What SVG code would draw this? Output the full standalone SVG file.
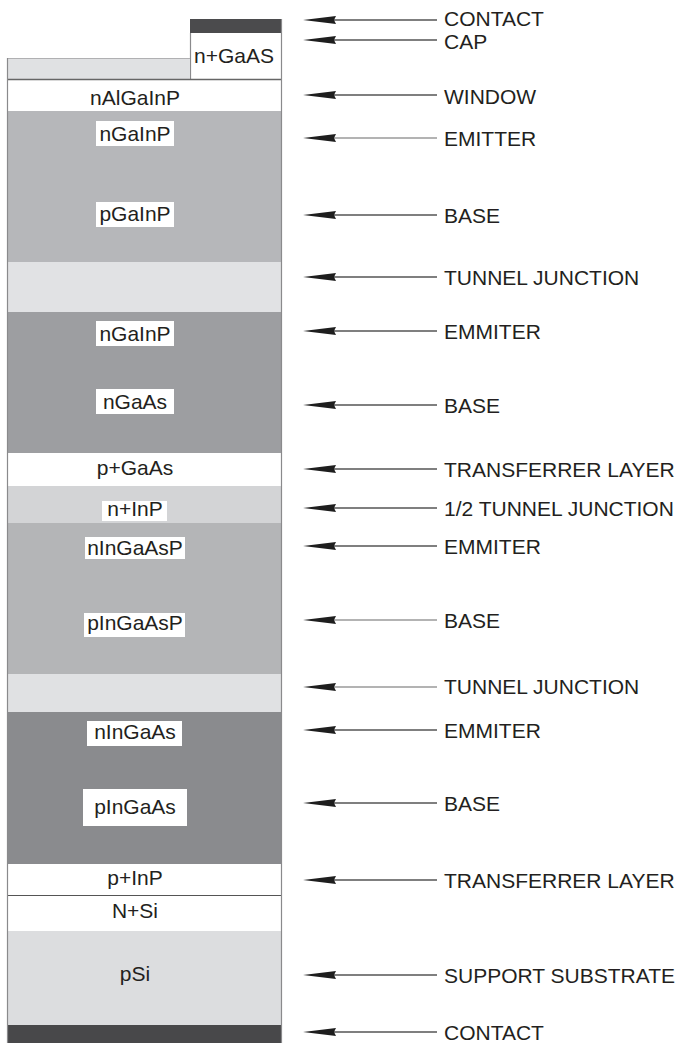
<svg xmlns="http://www.w3.org/2000/svg" width="680" height="1044" viewBox="0 0 680 1044">
<style>
.lbl{font-family:"Liberation Sans",Arial,sans-serif;font-size:21px;fill:#231f20;text-anchor:middle}
.rl{font-family:"Liberation Sans",Arial,sans-serif;font-size:21px;fill:#231f20}
.box{fill:#ffffff}
.sep{stroke:#8a8a8c;stroke-width:1.2}
.ln{stroke:#555;stroke-width:1.6}
.lnl{stroke:#9a9a9a;stroke-width:1.6}
</style>
<defs>
<path id="ah" d="M303,0 L336,-4 L334,0 L336,4 Z" fill="#1e1e1e"/>
</defs>
<rect width="680" height="1044" fill="#ffffff"/>
<g id="stack">
<g id="contact-top"><rect x="190" y="19" width="92" height="14" fill="#4b4b4d"/></g>
<g id="cap"><rect x="190" y="33" width="92" height="46" fill="#ffffff"/><line x1="190.5" y1="33" x2="190.5" y2="79" class="sep"/><text class="lbl" x="234" y="63">n+GaAS</text></g>
<g id="strip"><rect x="7" y="58" width="183" height="21" fill="#e0e1e3"/><line x1="7" y1="58.5" x2="190" y2="58.5" stroke="#b0b0b2" stroke-width="1"/></g>
<g id="window"><rect x="7" y="79" width="275" height="32" fill="#ffffff"/><line x1="7" y1="79.5" x2="282" y2="79.5" stroke="#666" stroke-width="1.4"/><text class="lbl" x="135" y="105">nAlGaInP</text></g>
<g id="gainp"><rect x="7" y="111" width="275" height="151" fill="#b6b7ba"/>
<rect class="box" x="96" y="121" width="78" height="25"/><text class="lbl" x="135" y="141">nGaInP</text>
<rect class="box" x="96" y="202" width="78" height="25"/><text class="lbl" x="135" y="221">pGaInP</text></g>
<g id="tj1"><rect x="7" y="262" width="275" height="50" fill="#e1e2e4"/></g>
<g id="gaas"><rect x="7" y="312" width="275" height="141" fill="#9d9ea1"/>
<rect class="box" x="96" y="321" width="78" height="25"/><text class="lbl" x="135" y="341">nGaInP</text>
<rect class="box" x="96" y="389" width="78" height="25"/><text class="lbl" x="135" y="409">nGaAs</text></g>
<g id="pgaas"><rect x="7" y="453" width="275" height="33" fill="#ffffff"/><text class="lbl" x="135" y="475">p+GaAs</text></g>
<g id="ninp"><rect x="7" y="486" width="275" height="37" fill="#d3d4d6"/>
<rect class="box" x="102" y="501" width="65" height="20"/><text class="lbl" x="135" y="516">n+InP</text></g>
<g id="ingaasp"><rect x="7" y="523" width="275" height="151" fill="#b4b5b7"/>
<rect class="box" x="85" y="537" width="100" height="22"/><text class="lbl" x="135" y="555">nInGaAsP</text>
<rect class="box" x="84" y="613" width="101" height="24"/><text class="lbl" x="135" y="630">pInGaAsP</text></g>
<g id="tj2"><rect x="7" y="674" width="275" height="38" fill="#e0e1e3"/></g>
<g id="ingaas"><rect x="7" y="712" width="275" height="152" fill="#8a8b8e"/>
<rect class="box" x="87" y="721" width="95" height="25"/><text class="lbl" x="135" y="739">nInGaAs</text>
<rect class="box" x="83" y="789" width="104" height="37"/><text class="lbl" x="135" y="814">pInGaAs</text></g>
<g id="pinp"><rect x="7" y="864" width="275" height="31" fill="#ffffff"/><text class="lbl" x="135" y="885">p+InP</text></g>
<g id="nsi"><rect x="7" y="895" width="275" height="36" fill="#ffffff"/><line x1="7" y1="895.5" x2="282" y2="895.5" stroke="#555" stroke-width="1.2"/><text class="lbl" x="135" y="918">N+Si</text></g>
<g id="psi"><rect x="7" y="931" width="275" height="94" fill="#dcdddf"/><text class="lbl" x="135" y="981">pSi</text></g>
<g id="contact-bottom"><rect x="7" y="1025" width="275" height="18" fill="#48484a"/></g>
<line x1="7.5" y1="58" x2="7.5" y2="1043" class="sep"/>
<line x1="281.5" y1="19" x2="281.5" y2="1043" class="sep"/>
</g>
<g id="connectors">
<line class="ln" x1="330" y1="20" x2="437" y2="20"/><use href="#ah" y="20"/>
<line class="ln" x1="330" y1="40" x2="437" y2="40"/><use href="#ah" y="40"/>
<line class="ln" x1="330" y1="95" x2="437" y2="95"/><use href="#ah" y="95"/>
<line class="lnl" x1="330" y1="138" x2="437" y2="138"/><use href="#ah" y="138"/>
<line class="ln" x1="330" y1="215" x2="437" y2="215"/><use href="#ah" y="215"/>
<line class="ln" x1="330" y1="277" x2="437" y2="277"/><use href="#ah" y="277"/>
<line class="ln" x1="330" y1="331" x2="437" y2="331"/><use href="#ah" y="331"/>
<line class="ln" x1="330" y1="405" x2="437" y2="405"/><use href="#ah" y="405"/>
<line class="ln" x1="330" y1="469" x2="437" y2="469"/><use href="#ah" y="469"/>
<line class="ln" x1="330" y1="508" x2="437" y2="508"/><use href="#ah" y="508"/>
<line class="ln" x1="330" y1="546" x2="437" y2="546"/><use href="#ah" y="546"/>
<line class="lnl" x1="330" y1="620" x2="437" y2="620"/><use href="#ah" y="620"/>
<line class="lnl" x1="330" y1="687" x2="437" y2="687"/><use href="#ah" y="687"/>
<line class="ln" x1="330" y1="730" x2="437" y2="730"/><use href="#ah" y="730"/>
<line class="ln" x1="330" y1="803" x2="437" y2="803"/><use href="#ah" y="803"/>
<line class="ln" x1="330" y1="880" x2="437" y2="880"/><use href="#ah" y="880"/>
<line class="ln" x1="330" y1="975" x2="437" y2="975"/><use href="#ah" y="975"/>
<line class="ln" x1="330" y1="1032" x2="437" y2="1032"/><use href="#ah" y="1032"/>
</g>
<g id="labels">
<text class="rl" x="444" y="26">CONTACT</text>
<text class="rl" x="444" y="49">CAP</text>
<text class="rl" x="444" y="104">WINDOW</text>
<text class="rl" x="444" y="146">EMITTER</text>
<text class="rl" x="444" y="223">BASE</text>
<text class="rl" x="444" y="285">TUNNEL JUNCTION</text>
<text class="rl" x="444" y="339">EMMITER</text>
<text class="rl" x="444" y="413">BASE</text>
<text class="rl" x="444" y="477">TRANSFERRER LAYER</text>
<text class="rl" x="444" y="516">1/2 TUNNEL JUNCTION</text>
<text class="rl" x="444" y="554">EMMITER</text>
<text class="rl" x="444" y="628">BASE</text>
<text class="rl" x="444" y="694">TUNNEL JUNCTION</text>
<text class="rl" x="444" y="738">EMMITER</text>
<text class="rl" x="444" y="811">BASE</text>
<text class="rl" x="444" y="888">TRANSFERRER LAYER</text>
<text class="rl" x="444" y="983">SUPPORT SUBSTRATE</text>
<text class="rl" x="444" y="1040">CONTACT</text>
</g>
</svg>
